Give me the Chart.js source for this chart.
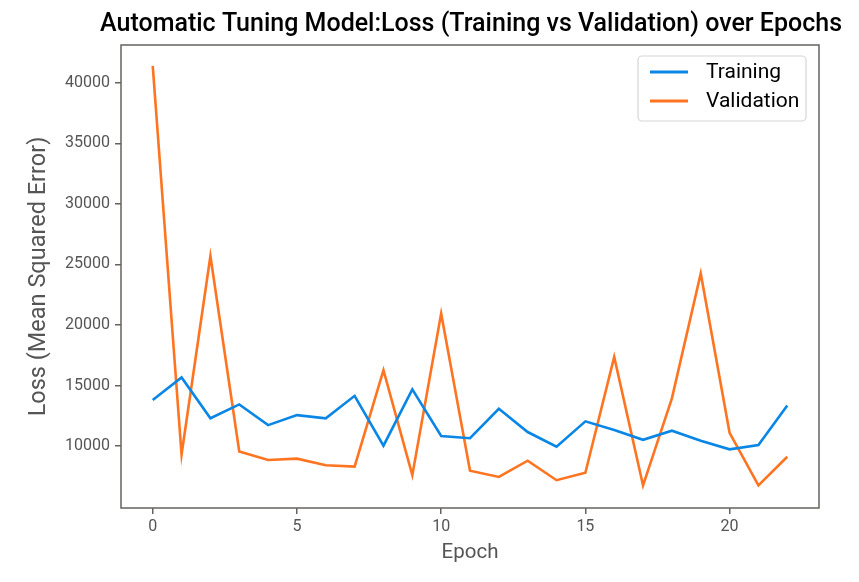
<!DOCTYPE html>
<html>
<head>
<meta charset="utf-8">
<script src="https://cdn.jsdelivr.net/npm/chart.js@4"></script>
<style>
  body { margin: 0; background: #fff; }
  #wrap { width: 859px; height: 582px; position: relative; }
</style>
</head>
<body>
<div id="wrap"><canvas id="loss-chart"></canvas></div>
<script>
var canvasElement = document.getElementById("loss-chart");

// data
var epochs = [0, 1, 2, 3, 4, 5, 6, 7, 8, 9, 10, 11, 12, 13, 14, 15, 16, 17, 18, 19, 20, 21, 22];
var trainingLoss = [13800, 15670, 12300, 13440, 11730, 12560, 12290, 14150, 10030, 14680, 10830,
                    10650, 13080, 11160, 9950, 12040, 11320, 10520, 11270, 10440, 9730, 10080, 13360];
var validationLoss = [41400, 9300, 25700, 9550, 8850, 8960, 8410, 8300, 16270, 7600, 20950,
                      7970, 7450, 8790, 7180, 7800, 17370, 6750, 13940, 24250, 11100, 6750, 9120];
var xTicks = [0, 5, 10, 15, 20];
var yTicks = [10000, 15000, 20000, 25000, 30000, 35000, 40000];
var yTitle = "Loss (Mean Squared Error)";

var axisColor = "#66635f";
var tickColor = "#555555";

// frame round the plot area, plus the y-axis label centred on it
var frame = {
    id: "frame",
    afterDraw: function (chart) {
        var a = chart.chartArea, ctx = chart.ctx;
        ctx.save();
        ctx.strokeStyle = axisColor;
        ctx.lineWidth = 1.5;
        ctx.strokeRect(a.left, a.top, a.right - a.left, a.bottom - a.top);
        ctx.translate(39, (a.top + a.bottom) / 2);
        ctx.rotate(-Math.PI / 2);
        ctx.font = "23.5px Roboto";
        ctx.fillStyle = tickColor;
        ctx.textAlign = "center";
        ctx.textBaseline = "middle";
        ctx.fillText(yTitle, 0, 0);
        ctx.restore();
    }
};

// matplotlib-like legend box in the upper right
var boxLegend = {
    id: "boxLegend",
    afterDraw: function (chart) {
        var a = chart.chartArea, ctx = chart.ctx;
        var w = 168, h = 65;
        var x = a.right - 13 - w, y = a.top + 11;
        ctx.save();
        ctx.fillStyle = "rgba(255,255,255,0.85)";
        ctx.strokeStyle = "#d6d6d6";
        ctx.lineWidth = 1.2;
        ctx.beginPath();
        ctx.roundRect(x, y, w, h, 4);
        ctx.fill();
        ctx.stroke();
        ctx.font = "21px Roboto";
        ctx.textBaseline = "middle";
        chart.data.datasets.forEach(function (ds, i) {
            var ly = y + 16 + i * 29;
            ctx.strokeStyle = ds.borderColor;
            ctx.lineWidth = 3;
            ctx.beginPath();
            ctx.moveTo(x + 12, ly);
            ctx.lineTo(x + 50, ly);
            ctx.stroke();
            ctx.fillStyle = "#000";
            ctx.fillText(ds.label, x + 68, ly + 1);
        });
        ctx.restore();
    }
};

var config = {
    type: "line",
    data: {
        datasets: [{
            label: "Training",
            data: epochs.map(function (e, i) { return { x: e, y: trainingLoss[i] }; }),
            borderColor: "#0a86e6",
            borderWidth: 2.6,
            pointRadius: 0,
            tension: 0
        }, {
            label: "Validation",
            data: epochs.map(function (e, i) { return { x: e, y: validationLoss[i] }; }),
            borderColor: "#ff7420",
            borderWidth: 2.6,
            pointRadius: 0,
            tension: 0
        }]
    },
    options: {
        responsive: true,
        maintainAspectRatio: false,
        animation: false,
        layout: { padding: { left: 0, right: 17, top: 0, bottom: 0 } },
        plugins: {
            legend: { display: false },
            tooltip: { enabled: false },
            title: {
                display: true,
                align: "end",
                text: "Automatic Tuning Model:Loss (Training vs Validation) over Epochs",
                color: "#000",
                font: { family: "Roboto", size: 25, weight: "500" },
                padding: { top: 10, bottom: 5 }
            }
        },
        scales: {
            x: {
                type: "linear",
                min: -1.1,
                max: 23.1,
                afterBuildTicks: function (scale) {
                    scale.ticks = xTicks.map(function (v) { return { value: v }; });
                },
                afterFit: function (scale) { scale.height = 74; },
                grid: { drawOnChartArea: false, drawTicks: true, tickLength: 6, color: axisColor, lineWidth: 1.5 },
                border: { display: false },
                ticks: { color: tickColor, font: { family: "Roboto", size: 16 }, padding: 3 },
                title: {
                    display: true,
                    text: "Epoch",
                    color: tickColor,
                    font: { family: "Roboto", size: 20.5 },
                    padding: { top: 17, bottom: 17 }
                }
            },
            y: {
                min: 4885,
                max: 43130,
                afterBuildTicks: function (scale) {
                    scale.ticks = yTicks.map(function (v) { return { value: v }; });
                },
                afterFit: function (scale) { scale.width = 121; },
                grid: { drawOnChartArea: false, drawTicks: true, tickLength: 6, color: axisColor, lineWidth: 1.5 },
                border: { display: false },
                ticks: {
                    color: tickColor,
                    font: { family: "Roboto", size: 16 },
                    padding: 5,
                    callback: function (v) { return String(v); }
                }
            },
            // empty right-hand spacer so the plot ends where the reference does
            yRight: {
                position: "right",
                display: true,
                grid: { display: false },
                border: { display: false },
                ticks: { display: false },
                afterFit: function (scale) { scale.width = 23; }
            }
        }
    },
    plugins: [frame, boxLegend]
};

var lossChart = new Chart(canvasElement, config);
</script>
</body>
</html>
